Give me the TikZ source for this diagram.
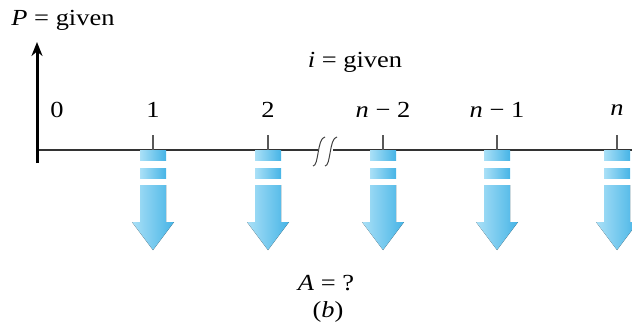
\documentclass[tikz,border=0pt]{standalone}
\usepackage{fontspec}
\setmainfont{Liberation Serif}[FakeStretch=1.15]
\usetikzlibrary{arrows.meta}

\definecolor{flowlight}{RGB}{170,224,247}
\definecolor{flowmid}{RGB}{30,165,225}
\definecolor{flowdark}{RGB}{70,180,230}

\tikzset{
  lbl/.style={font=\fontsize{23}{26}\selectfont, inner sep=0pt},
  cash/.style={left color=flowlight, middle color=flowmid, right color=flowdark, draw=none},
  tickline/.style={line width=1.2pt, draw=black!65},
  timeline/.style={line width=1.4pt, draw=black!80},
}

% one downward cash-flow arrow centred at x = #1
\newcommand{\cashdown}[1]{%
  \fill[cash] (#1-13,150) rectangle (#1+13,160);
  \fill[cash] (#1-13,168) rectangle (#1+13,178);
  \fill[cash] (#1-13,185) -- (#1+13,185) -- (#1+13,222) -- (#1+21,222)
    -- (#1,250) -- (#1-21,222) -- (#1-13,222) -- cycle;
}

\begin{document}
\begin{tikzpicture}[x=1pt, y=-1pt]
    \useasboundingbox (0,0) rectangle (632,335);
    \clip (0,0) rectangle (632,335);
    % time line
    \coordinate (o) at (37,150);
    \coordinate (brkl) at (318,150);
    \coordinate (brkr) at (333,150);
    \coordinate (e) at (632,150);
    \draw[timeline] (o) -- (brkl);
    \draw[timeline] (brkr) -- (e);
    % break marks
    \draw[line width=1pt, black!75] (313,166) .. controls (319,166) and (317,138) .. (325,137);
    \draw[line width=1pt, black!75] (325,166) .. controls (331,166) and (329,138) .. (337,137);
    % present worth axis
    \coordinate (pbot) at (37,163);
    \coordinate (ptop) at (37,42);
    \draw[line width=3pt, -{Stealth[length=14pt, width=11pt]}] (pbot) -- (ptop);
    \node[lbl] (pw) at (63,20) {\textit{P} = given};
    \node[lbl] (rate) at (355,62) {\textit{i} = given};
    \node[lbl] (t0) at (57,110) {0};
    % periods with equal payments
    \foreach \x/\t/\name in {153/1/one, 268/2/two, 383/{\textit{n} − 2}/nmtwo, 497/{\textit{n} − 1}/nmone, 617/\textit{n}/n}{
        \node[lbl] (t\name) at (\x,110) {\t};
        \coordinate (k\name) at (\x,150);
        \draw[tickline] (k\name) -- ++(0,-15);
        \cashdown{\x}
    }
    \node[lbl] (ann) at (326,283) {\textit{A} = ?};
    \node[lbl] (cap) at (328,312) {(\textit{b})};
\end{tikzpicture}
\end{document}
